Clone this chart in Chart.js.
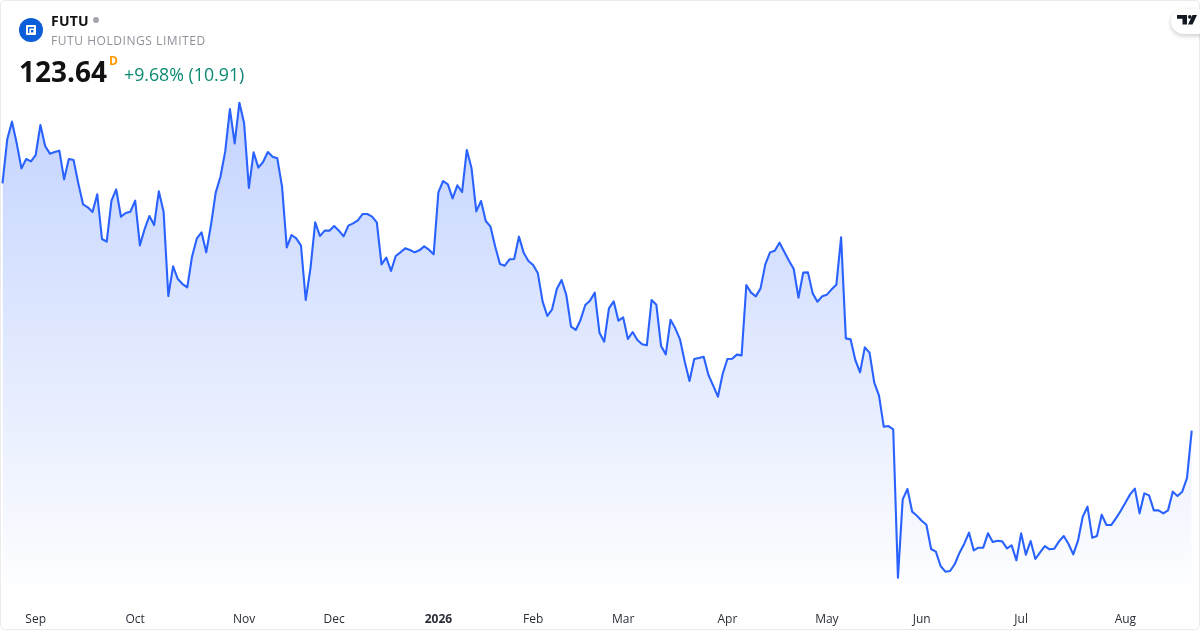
<!DOCTYPE html>
<html><head><meta charset="utf-8">
<style>
html,body{margin:0;padding:0;background:#fff;width:1200px;height:630px;overflow:hidden}
#card{position:absolute;left:0;top:0;width:1200px;height:630px;overflow:hidden;background:#fff;font-family:"Open Sans",sans-serif}
#edge{position:absolute;left:0;top:0;width:1200px;height:630px;box-sizing:border-box;border:1.5px solid #ebebeb;border-radius:5px;pointer-events:none}
canvas{position:absolute;left:0;top:0}
.t{position:absolute;white-space:nowrap}
#logo{position:absolute;left:19px;top:18px;width:24px;height:24px}
#dot{position:absolute;left:93px;top:17px;width:6px;height:6px;border-radius:50%;background:#a3a6af}
#tv{position:absolute;left:1171px;top:9px;width:40px;height:25px;border-radius:13px;background:#fff;box-shadow:0 2px 5px rgba(0,0,0,.2)}
#tv svg{position:absolute;left:6px;top:6px}
</style></head><body>
<div id="card">
<canvas id="c" width="1200" height="630"></canvas>
<div id="edge"></div>
<svg id="logo" viewBox="0 0 24 24"><circle cx="12" cy="12" r="12" fill="#0b5ed7"/><rect x="7" y="7" width="10" height="10" rx="1" fill="#fff"/><path d="M9 9H15V10.4H10.4V15H9Z" fill="#0b5ed7"/><rect x="12" y="12" width="2.4" height="2.4" fill="#0b5ed7"/></svg>
<div class="t" style="left:51px;top:12px;font-size:14px;font-weight:700;color:#111;line-height:18px;letter-spacing:.2px">FUTU</div>
<div id="dot"></div>
<div class="t" style="left:51px;top:32px;font-size:12px;color:#8f929b;line-height:18px;letter-spacing:.55px">FUTU HOLDINGS LIMITED</div>
<div class="t" style="left:19px;top:52px;font-size:28px;font-weight:700;color:#111;line-height:38px">123.64</div>
<div class="t" style="left:109px;top:54px;font-size:12px;font-weight:700;color:#ff9800;line-height:14px">D</div>
<div class="t" style="left:124px;top:62px;font-size:17.75px;color:#0a8a72;line-height:24px">+9.68% (10.91)</div>
<div id="tv"><svg width="20" height="12" viewBox="0 0 20 12"><path d="M0 0H10V9.5H5.5V3.7H0Z M15.5 0H20L15.5 9.5H11Z" fill="#131722"/><circle cx="12.8" cy="1.9" r="1.8" fill="#131722"/></svg></div>
</div>
<script src="https://cdn.jsdelivr.net/npm/chart.js@4"></script>
<script>
const closes = [
180.66,190.80,194.87,189.88,184.11,186.27,185.73,187.19,194.10,189.26,187.50,187.88,188.19,181.58,186.27,186.04,
180.66,175.82,175.13,174.05,178.12,167.83,167.21,176.66,179.27,172.97,173.82,174.13,176.66,166.37,170.13,173.13,
171.05,178.81,174.13,154.69,161.53,158.61,157.45,156.69,163.75,167.90,169.36,164.75,171.05,178.51,182.19,187.96,
197.79,189.88,199.25,194.49,179.58,187.80,184.27,185.57,187.88,186.80,186.42,179.89,165.91,168.75,167.98,166.29,
153.77,161.07,171.67,168.52,169.75,169.75,170.83,169.75,168.45,170.90,171.44,172.13,173.59,173.59,172.98,171.67,
161.99,163.53,160.46,163.91,164.76,165.68,165.30,164.76,165.22,166.14,165.37,164.30,178.59,181.20,180.43,177.20,
180.20,178.66,188.35,184.12,174.21,176.59,171.98,170.67,166.06,162.07,161.69,163.14,163.22,168.37,164.68,162.76,
161.84,159.92,153.39,150.08,151.62,156.31,158.38,154.92,147.63,146.86,149.16,152.62,153.62,155.46,146.24,
144.16,151.84,153.46,149.00,149.77,144.78,146.39,144.55,143.55,143.32,153.77,152.69,143.16,141.24,149.23,147.24,
144.70,139.55,135.10,140.17,140.40,140.70,136.48,134.02,131.48,136.71,140.17,140.24,141.17,141.01,157.22,155.46,
154.61,156.45,161.99,164.75,165.14,166.98,164.91,162.83,160.91,154.30,160.07,160.14,155.30,153.38,154.61,155.00,
156.22,157.30,168.21,144.93,144.70,139.94,137.09,142.86,141.63,134.71,131.72,124.57,124.72,123.96,
89.76,107.82,110.20,104.98,104.05,102.90,101.98,96.37,95.76,92.45,91.15,91.30,92.92,95.53,97.60,100.14,
96.06,96.68,96.68,99.98,97.99,98.29,98.14,96.53,97.22,93.76,99.98,95.07,98.22,94.07,95.60,97.06,
96.30,96.45,98.14,99.37,97.52,95.14,98.29,103.82,106.13,98.98,99.37,104.29,101.90,101.90,103.44,105.13,
107.05,108.97,110.28,104.59,109.20,108.74,105.28,105.28,104.59,105.28,109.59,108.59,109.59,112.73,123.64
];
const tickLabels = ["Sep","Oct","Nov","Dec","2026","Feb","Mar","Apr","May","Jun","Jul","Aug"];
const tickIndex = [7,28,51,70,92,112,131,153,174,194,215,237];
const points = closes.map((v,i)=>({x:i,y:v}));

new Chart(document.getElementById('c'),{
  type:'line',
  data:{datasets:[{
    data:points,
    borderColor:'#2962ff',
    borderWidth:2.1,
    borderJoinStyle:'round',
    pointRadius:0,
    tension:0,
    fill:'start',
    backgroundColor(ctx){
      const a=ctx.chart.chartArea;
      if(!a) return 'rgba(41,98,255,.2)';
      const g=ctx.chart.ctx.createLinearGradient(0,100,0,a.bottom);
      g.addColorStop(0,'rgba(41,98,255,0.28)');
      g.addColorStop(1,'rgba(41,98,255,0)');
      return g;
    }
  }]},
  options:{
    responsive:false,animation:false,devicePixelRatio:1,
    layout:{padding:{top:60,left:0,right:0,bottom:0}},
    plugins:{legend:{display:false},tooltip:{enabled:false}},
    scales:{
      y:{display:false,min:84.62,max:209.09},
      x:{type:'linear',min:-0.528,max:252.75,
        grid:{display:false},border:{display:false},
        afterFit(s){s.height=30},
        afterBuildTicks(s){s.ticks=tickIndex.map(v=>({value:v}))},
        ticks:{
          autoSkip:false,maxRotation:0,minRotation:0,padding:4,
          color:'#2a2e39',
          font(c){const l=tickLabels[c.index];return {family:'"Open Sans",sans-serif',size:12,weight:l==='2026'?'700':'400'}},
          callback(v,i){return tickLabels[i]}
        }
      }
    }
  }
});
</script>
</body></html>
